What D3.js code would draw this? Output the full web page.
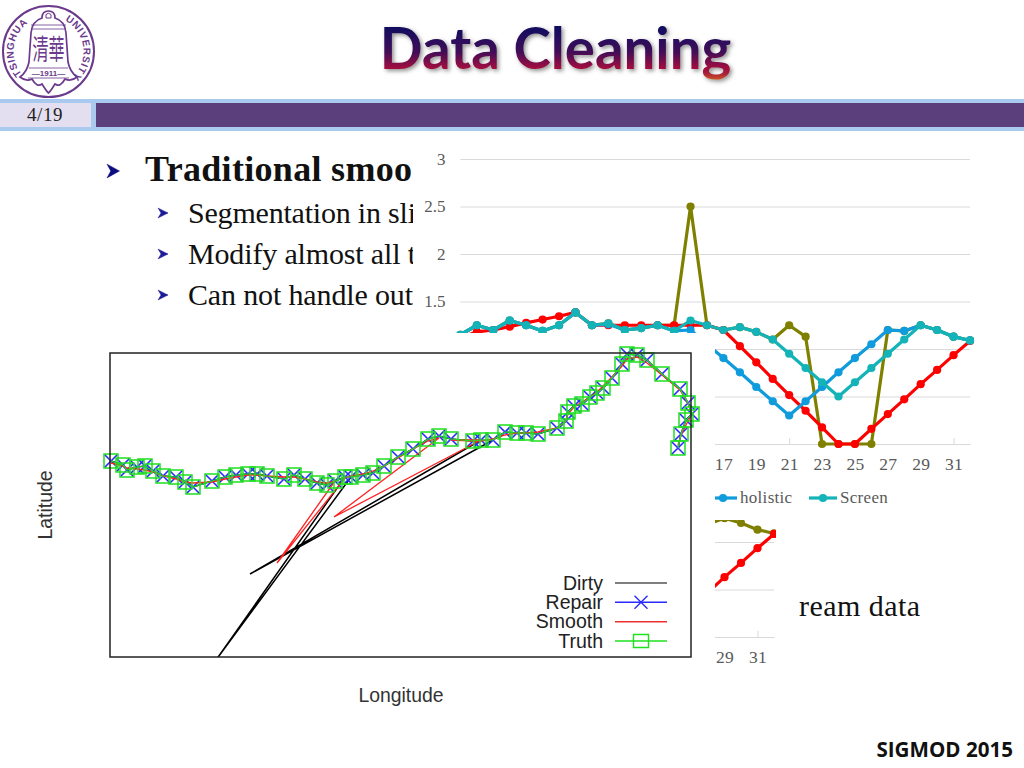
<!DOCTYPE html>
<html>
<head>
<meta charset="utf-8">
<style>
  html, body { margin:0; padding:0; background:#fff; }
  svg { display:block; }
  .slide { font-family:"Liberation Serif", serif; }
  .tick text { font-family:"Liberation Serif", serif; fill:#595959; }
</style>
</head>
<body>
<svg id="content" width="1024" height="768"></svg>
<script src="https://cdn.jsdelivr.net/npm/d3@7"></script>
<script>
// line chart behind the scatter plot
var days = [1,2,3,4,5,6,7,8,9,10,11,12,13,14,15,16,17,18,19,20,21,22,23,24,25,26,27,28,29,30,31,32];
var upper_labels = [17,19,21,23,25,27,29,31];   // the rest sit under the scatter plot
var lower_labels = [29,31];
var day_marks = [1,11,21,31];
var y_ticks = [0,0.5,1,1.5,2,2.5,3];
var y_shown = [1.5,2,2.5,3];

var olive_vals = [1.15,1.25,1.20,1.30,1.25,1.19,1.25,1.385,1.25,1.27,1.20,1.22,1.25,1.25,2.5,1.25,1.20,1.23,1.18,1.10,1.25,1.13,0,0,0,0,1.20,1.19,1.25,1.20,1.13,1.09];
var red_vals = [1.12,1.18,1.20,1.235,1.275,1.31,1.345,1.385,1.25,1.25,1.25,1.25,1.25,1.25,1.25,1.25,1.20,1.03,0.86,0.685,0.515,0.35,0.175,0,0,0.16,0.315,0.47,0.63,0.78,0.935,1.085];
var holistic_vals = [1.15,1.25,1.20,1.30,1.25,1.19,1.25,1.385,1.25,1.26,1.20,1.22,1.25,1.19,1.20,1.05,0.905,0.755,0.60,0.45,0.30,0.45,0.60,0.755,0.905,1.05,1.20,1.19,1.25,1.20,1.13,1.09];
var screen_vals = [1.15,1.25,1.20,1.30,1.25,1.19,1.25,1.385,1.25,1.27,1.20,1.22,1.25,1.19,1.30,1.25,1.20,1.23,1.18,1.10,0.95,0.80,0.65,0.50,0.65,0.80,0.95,1.10,1.25,1.20,1.13,1.09];

// scatter plot, the axes have no numbers so the units are just plot units
var truth_lon = [1,13,17,27,35,43,53,66,75,83,102,115,126,138,147,157,174,184,195,207,217,225,235,241,253,263,274,288,303,318,329,341,363,371,383,395,407,416,428,447,456,458,464,472,480,487,493,502,512,517,527,537,552,570,578,582,576,571,568];
var truth_lat = [196,192,187,190,191,186,181,180,175,170,176,180,182,183,183,181,178,182,178,174,172,176,180,180,182,184,191,200,208,218,221,218,216,217,217,225,224,224,223,229,236,245,251,253,260,264,269,279,293,303,302,297,283,268,254,243,237,223,209];
var smooth_lat = [194,191,189,188,187,185,181,178,175,174,175,178,180,182,182,181,180,180,178,175,174,176,179,181,183,186,191,199,208,216,219,217,216,216,218,222,224,224,225,229,236,243,250,255,260,265,271,280,291,298,300,294,282,267,254,243,232,222,212];
// [index after which the outlier sits, lon, lat]
var dirty_spikes = [[22,106,-3],[33,140,83]];
var smooth_spikes = [[21,167,94],[30,224,140],[30.5,371,217]];
var plot_legend = ["Dirty","Repair","Smooth","Truth"];

var svg = d3.select("#content");
var slide = svg.append("g").attr("class","slide");

// ---- slide furniture ----
slide.append("rect").attr("x",0).attr("y",99).attr("width",1024).attr("height",32).attr("fill","#a9c9ee");
slide.append("rect").attr("x",0).attr("y",103).attr("width",91).attr("height",24).attr("fill","#e4dff0");
slide.append("rect").attr("x",96).attr("y",103).attr("width",928).attr("height",24).attr("fill","#5a3f7c");
slide.append("text").attr("x",45).attr("y",121).attr("text-anchor","middle").attr("letter-spacing",0.5)
  .style("font-size","19px").attr("fill","#222").text("4/19");

var defs = svg.append("defs");
var grad = defs.append("linearGradient").attr("id","title_grad")
  .attr("gradientUnits","userSpaceOnUse").attr("x1",0).attr("x2",0).attr("y1",26).attr("y2",84);
grad.append("stop").attr("offset","0").attr("stop-color","#0e0a60");
grad.append("stop").attr("offset","0.45").attr("stop-color","#420a58");
grad.append("stop").attr("offset","0.72").attr("stop-color","#a00a40");
grad.append("stop").attr("offset","0.82").attr("stop-color","#a8203a");
grad.append("stop").attr("offset","1").attr("stop-color","#e8760f");
var shadow = defs.append("filter").attr("id","title_shadow")
  .attr("x","-5%").attr("y","-15%").attr("width","110%").attr("height","135%");
shadow.append("feDropShadow").attr("dx",2).attr("dy",2).attr("stdDeviation",2)
  .attr("flood-color","#555").attr("flood-opacity",0.65);

svg.append("text").attr("x",555.5).attr("y",69).attr("text-anchor","middle")
  .style("font-family","Lato, sans-serif").style("font-weight","700").style("font-size","56.4px")
  .attr("fill","url(#title_grad)").attr("filter","url(#title_shadow)")
  .text("Data Cleaning");

// logo
var logo_col = "#6b3a8c";
var logo = svg.append("g").attr("fill","none").attr("stroke",logo_col);
logo.append("circle").attr("cx",48.5).attr("cy",51.5).attr("r",45.5).attr("stroke-width",2);
logo.append("path").attr("stroke-width",1.7)
  .attr("d","M42,18 Q42,11 48.5,11 Q55,11 55,18 Q65,21 66,33 L68,62 Q70,72 77,77 Q71,82 65,79 Q60,88 55,84 Q50,92 48.5,93 Q47,92 42,84 Q37,88 32,79 Q26,82 20,77 Q27,72 29,62 L31,33 Q32,21 42,18 Z");
logo.append("path").attr("stroke-width",0.8).attr("d","M31,25 H66 M31,29 H66 M29,68 H68 M28,78 H69");
logo.append("path").attr("stroke-width",1).attr("d","M46,14.5 Q48.5,12 51,14.5 L51,18 H46 Z");
defs.append("path").attr("id","logo_arc").attr("d","M48.5,86.5 A35,35 0 1 1 48.5,16.5 A35,35 0 1 1 48.5,86.5");
var logo_words = [["TSINGHUA","27%"],["UNIVERSITY","73%"]];
logo_words.forEach(function(w){
  svg.append("text").style("font-family","'Liberation Sans', sans-serif").style("font-weight","700").style("font-size","10px")
    .attr("fill",logo_col).attr("text-anchor","middle").attr("letter-spacing",0.7)
    .append("textPath").attr("href","#logo_arc").attr("startOffset",w[1]).text(w[0]);
});
svg.append("text").attr("transform","translate(48.5,60) scale(1,1.8)").attr("text-anchor","middle")
  .style("font-family","'Noto Sans CJK TC', sans-serif").style("font-size","16px").attr("fill",logo_col).text("清華");
svg.append("text").attr("x",48.5).attr("y",76).attr("text-anchor","middle")
  .style("font-family","'Liberation Sans', sans-serif").style("font-weight","700").style("font-size","8px")
  .attr("fill",logo_col).text("—1911—");

// bullets, the chart covers the rest of these lines
defs.append("clipPath").attr("id","text_clip").append("rect").attr("x",100).attr("y",145).attr("width",313).attr("height",185);
var bullet_lines = [
  {t:"Traditional smoo", x:145, y:181, w:267, size:36, bold:true, b:107},
  {t:"Segmentation in sli", x:188, y:223, w:228, size:30, bold:false, b:158},
  {t:"Modify almost all t", x:188, y:264, w:228, size:30, bold:false, b:158},
  {t:"Can not handle out", x:188, y:305, w:225, size:30, bold:false, b:158}
];
bullet_lines.forEach(function(d){
  slide.append("text").attr("clip-path","url(#text_clip)").attr("x",d.x).attr("y",d.y)
    .attr("textLength",d.w).attr("lengthAdjust","spacing")
    .style("font-size",d.size+"px").style("font-weight",d.bold?"700":"400").attr("fill","#111").text(d.t);
  var by = d.y-10, s = d.bold ? 1.25 : 1;
  slide.append("path")
    .attr("transform","translate("+d.b+","+by+") scale("+s+")")
    .attr("d", d.bold ? "M0,-5.5 L10,0 L0,5.5 L3,0 Z" : "M0,-5 L10,0 L0,5 L3,0 Z M3,0 L10,0")
    .attr("fill", d.bold ? "#0c0c80" : "#2020a0").attr("stroke","#0c0c80").attr("stroke-width",0.4);
});
slide.append("text").attr("x",799).attr("y",616).attr("textLength",121).attr("lengthAdjust","spacing")
  .style("font-size","30px").attr("fill","#111").text("ream data");
svg.append("text").attr("x",1013).attr("y",757).attr("text-anchor","end")
  .style("font-family","'Open Sans', sans-serif").style("font-weight","700").style("font-size","20.6px")
  .attr("fill","#111").text("SIGMOD 2015");

// ---- line chart, upper one ----
function draw_lines(g, x, y, list){
  var line = d3.line()
    .x(function(d,i){ return x(days[i]); })
    .y(function(d){ return y(d); });
  list.forEach(function(s){
    g.append("path").attr("d",line(s.vals)).attr("fill","none")
      .attr("stroke",s.col).attr("stroke-width",3.2).attr("stroke-linejoin","round");
    g.selectAll(null).data(s.vals).enter().append("circle")
      .attr("cx",function(d,i){ return x(days[i]); })
      .attr("cy",function(d){ return y(d); })
      .attr("r",4.1).attr("fill",s.col);
  });
}
function draw_axes(g, x, y, labels){
  g.append("g").attr("transform","translate(0,"+y(0)+")")
    .call(d3.axisBottom(x).tickValues(labels).tickSize(0).tickPadding(14))
    .call(function(a){ a.select(".domain").attr("stroke","#d9d9d9"); a.selectAll("text").style("font-size","17.5px").attr("letter-spacing",0.3); });
  g.append("g").attr("transform","translate(0,"+y(0)+")")
    .call(d3.axisBottom(x).tickValues(day_marks).tickSizeInner(-6).tickSizeOuter(0).tickFormat(""))
    .call(function(a){ a.select(".domain").remove(); a.selectAll("line").attr("stroke","#d9d9d9"); });
}

var olive = "#808000", red = "#ff0000", blue = "#0f9bdc", teal = "#14b3b8";

svg.append("rect").attr("x",413).attr("y",142).attr("width",562).attr("height",375).attr("fill","#fff");
var chart_a = svg.append("g");
var xa = d3.scalePoint().domain(days).range([460.4,970]);
var ya = d3.scaleLinear().domain([0,3]).range([444,159]);
chart_a.append("g").attr("transform","translate(460.4,0)")
  .call(d3.axisLeft(ya).tickValues(y_ticks).tickSizeInner(-509.6).tickSizeOuter(0).tickPadding(15)
    .tickFormat(function(d){ return y_shown.indexOf(d) >= 0 ? d : ""; }))
  .call(function(a){
    a.select(".domain").remove();
    a.selectAll("line").attr("stroke","#d9d9d9");
    a.selectAll("text").style("font-size","17px");
  });
draw_axes(chart_a, xa, ya, upper_labels);
draw_lines(chart_a, xa, ya, [
  {vals:olive_vals, col:olive},
  {vals:red_vals, col:red},
  {vals:holistic_vals, col:blue},
  {vals:screen_vals, col:teal}
]);
var chart_legend = [
  {name:"holistic", col:blue, x1:709, x2:737, dot:723, tx:740},
  {name:"Screen", col:teal, x1:809, x2:837, dot:823, tx:840}
];
chart_legend.forEach(function(d){
  chart_a.append("line").attr("x1",d.x1).attr("x2",d.x2).attr("y1",498).attr("y2",498).attr("stroke",d.col).attr("stroke-width",3.2);
  chart_a.append("circle").attr("cx",d.dot).attr("cy",498).attr("r",4.1).attr("fill",d.col);
  chart_a.append("text").attr("x",d.tx).attr("y",503).attr("fill","#595959").attr("letter-spacing",0.3)
    .style("font-size","17px").text(d.name);
});

// ---- line chart, lower one, only its right end shows ----
defs.append("clipPath").attr("id","lower_clip").append("rect").attr("x",413).attr("y",520).attr("width",363).attr("height",150);
var chart_b = svg.append("g").attr("clip-path","url(#lower_clip)");
var xb = d3.scalePoint().domain(days).range([262.5,774]);
var yb = d3.scaleLinear().domain([0,3]).range([637,352]);
chart_b.append("g").attr("transform","translate(262.5,0)")
  .call(d3.axisLeft(yb).tickValues(y_ticks).tickSizeInner(-511.5).tickSizeOuter(0).tickFormat(""))
  .call(function(a){ a.select(".domain").remove(); a.selectAll("line").attr("stroke","#d9d9d9"); });
draw_axes(chart_b, xb, yb, lower_labels);
draw_lines(chart_b, xb, yb, [
  {vals:olive_vals, col:olive},
  {vals:red_vals, col:red}
]);

// ---- the scatter plot picture sits on top of both ----
svg.append("rect").attr("x",0).attr("y",333).attr("width",715).attr("height",390).attr("fill","#fff");

var px = d3.scaleLinear().domain([0,581]).range([110,691]);
var py = d3.scaleLinear().domain([0,304]).range([657,353]);

defs.append("clipPath").attr("id","plot_clip").append("rect").attr("x",110).attr("y",353).attr("width",581).attr("height",304);

function with_spikes(lons, lats, spikes){
  var pts = lons.map(function(d,i){ return {k:i, lon:d, lat:lats[i]}; });
  spikes.forEach(function(s){ pts.push({k:s[0]+0.25, lon:s[1], lat:s[2]}); });
  return pts.sort(function(a,b){ return a.k-b.k; });
}
var plot_line = d3.line()
  .x(function(d){ return px(d.lon); })
  .y(function(d){ return py(d.lat); });

var x_mark = "M-6.5,-6.5L6.5,6.5M-6.5,6.5L6.5,-6.5";
var sq_mark = "M-7,-7H7V7H-7Z";
var legend_sq = "M-7.5,-6.5H7.5V6.5H-7.5Z";
var truth_pts = truth_lon.map(function(d,i){ return {lon:d, lat:truth_lat[i]}; });

var plot = svg.append("g");
plot.append("path").attr("clip-path","url(#plot_clip)")
  .attr("d",plot_line(with_spikes(truth_lon,truth_lat,dirty_spikes)))
  .attr("fill","none").attr("stroke","#000").attr("stroke-width",1.5);
plot.append("path").attr("d",plot_line(truth_pts)).attr("fill","none").attr("stroke","#2a2aff").attr("stroke-width",1);
plot.selectAll(".rep").data(truth_pts).enter().append("path").attr("class","rep")
  .attr("transform",function(d){ return "translate("+px(d.lon)+","+py(d.lat)+")"; })
  .attr("d",x_mark).attr("fill","none").attr("stroke","#2a2aff").attr("stroke-width",1.6);
plot.append("path").attr("d",plot_line(with_spikes(truth_lon,smooth_lat,smooth_spikes)))
  .attr("fill","none").attr("stroke","#f22").attr("stroke-width",1.3);
plot.append("path").attr("d",plot_line(truth_pts)).attr("fill","none").attr("stroke","#1fe01f").attr("stroke-width",1.2);
plot.selectAll(".tru").data(truth_pts).enter().append("path").attr("class","tru")
  .attr("transform",function(d){ return "translate("+px(d.lon)+","+py(d.lat)+")"; })
  .attr("d",sq_mark).attr("fill","none").attr("stroke","#1fe01f").attr("stroke-width",1.5);

plot.append("rect").attr("x",110).attr("y",353).attr("width",581).attr("height",304)
  .attr("fill","none").attr("stroke","#222").attr("stroke-width",1.5);

var legend_cols = ["#555","#2a2aff","#f03030","#1fe01f"];
var legend_y = d3.scalePoint().domain(plot_legend).range([583,641]);
plot_legend.forEach(function(name,i){
  var y = legend_y(name);
  plot.append("text").attr("x",603).attr("y",y+6.5).attr("text-anchor","end")
    .style("font-family","'Liberation Sans', sans-serif").style("font-size","19.5px").attr("fill","#222").text(name);
  plot.append("line").attr("x1",615).attr("x2",667).attr("y1",y).attr("y2",y).attr("stroke",legend_cols[i]).attr("stroke-width",1.5);
  if(name=="Repair" || name=="Truth"){
    plot.append("path").attr("transform","translate(641,"+y+")")
      .attr("d",name=="Repair" ? x_mark : legend_sq).attr("fill","none").attr("stroke",legend_cols[i]).attr("stroke-width",1.4);
  }
});
plot.append("text").attr("x",401).attr("y",702).attr("text-anchor","middle")
  .style("font-family","'Liberation Sans', sans-serif").style("font-size","19.4px").attr("fill","#333").text("Longitude");
plot.append("text").attr("transform","translate(52,505) rotate(-90)").attr("text-anchor","middle")
  .style("font-family","'Liberation Sans', sans-serif").style("font-size","19.4px").attr("fill","#333").text("Latitude");
</script>
</body>
</html>
